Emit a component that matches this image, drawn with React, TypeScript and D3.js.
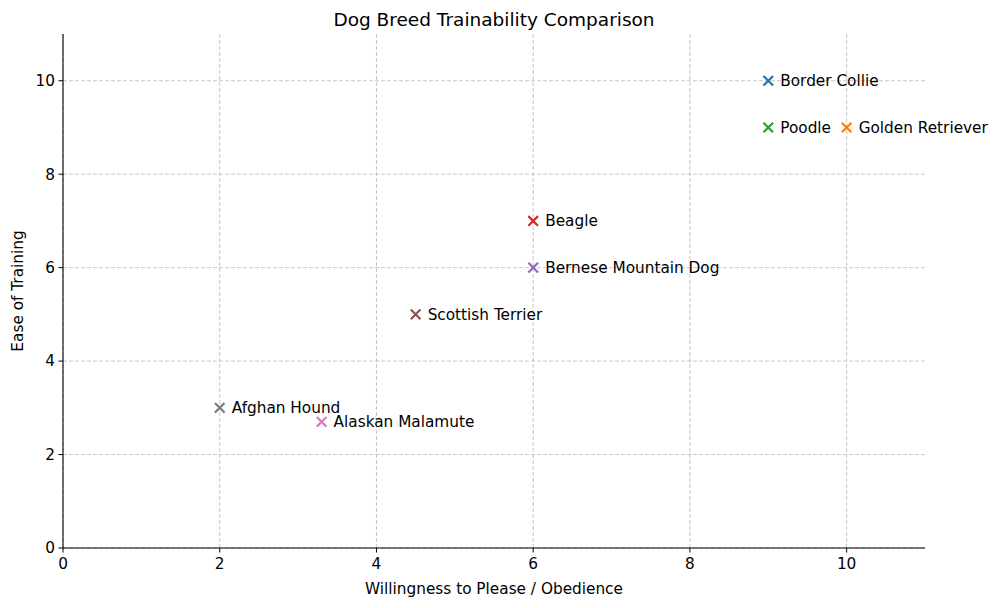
import React from "react";
import * as d3 from "d3";

// Breeds with their obedience and ease-of-training scores
const breeds = [
  "Border Collie",
  "Golden Retriever",
  "Poodle",
  "Beagle",
  "Bernese Mountain Dog",
  "Scottish Terrier",
  "Alaskan Malamute",
  "Afghan Hound",
];
const obedience = [9, 10, 9, 6, 6, 4.5, 3.3, 2];
const easeOfTraining = [10, 9, 9, 7, 6, 5, 2.7, 3];
const colors = [
  "#1f77b4",
  "#ff7f0e",
  "#2ca02c",
  "#d62728",
  "#9467bd",
  "#8c564b",
  "#e377c2",
  "#7f7f7f",
];
const xTicks = [0, 2, 4, 6, 8, 10];
const yTicks = [0, 2, 4, 6, 8, 10];

const W = 1000;
const H = 608;
const margin = { left: 63, right: 75, top: 34, bottom: 60 };

export default function App() {
  const x = d3.scaleLinear().domain([0, 11]).range([margin.left, W - margin.right]);
  const y = d3.scaleLinear().domain([0, 11]).range([H - margin.bottom, margin.top]);
  const font = "'DejaVu Sans', sans-serif";
  const x0 = x(0);
  const y0 = y(0);
  const ms = 4.8;
  const fs = 15.3;

  return (
    <div style={{ position: "absolute", left: 0, top: 0 }}>
      <svg width={W} height={H} fontFamily={font} style={{ display: "block", background: "#fff" }}>
        {/* grid */}
        {xTicks.map((t) => (
          <line key={"gx" + t} x1={x(t)} x2={x(t)} y1={y(11)} y2={y0}
            stroke="#b0b0b0" strokeOpacity={0.7} strokeDasharray="4,2" strokeWidth={1} />
        ))}
        {yTicks.map((t) => (
          <line key={"gy" + t} x1={x0} x2={x(11)} y1={y(t)} y2={y(t)}
            stroke="#b0b0b0" strokeOpacity={0.7} strokeDasharray="4,2" strokeWidth={1} />
        ))}

        {/* markers and labels */}
        {breeds.map((b, i) => {
          const cx = x(obedience[i]);
          const cy = y(easeOfTraining[i]);
          return (
            <g key={b}>
              <path
                d={`M${cx - ms},${cy - ms}L${cx + ms},${cy + ms}M${cx - ms},${cy + ms}L${cx + ms},${cy - ms}`}
                stroke={colors[i]} strokeWidth={2.2} fill="none" />
              <text x={cx + 12} y={cy} dy="0.35em" fontSize={fs} fill="#000">{b}</text>
            </g>
          );
        })}

        {/* spines */}
        <line x1={x0} x2={x0} y1={y(11)} y2={y0} stroke="#000" strokeWidth={1.1} />
        <line x1={x0} x2={x(11)} y1={y0} y2={y0} stroke="#000" strokeWidth={1.1} />

        {/* ticks */}
        {xTicks.map((t) => (
          <g key={"tx" + t}>
            <line x1={x(t)} x2={x(t)} y1={y0} y2={y0 + 4.5} stroke="#000" />
            <text x={x(t)} y={y0 + 21} textAnchor="middle" fontSize={fs}>{t}</text>
          </g>
        ))}
        {yTicks.map((t) => (
          <g key={"ty" + t}>
            <line x1={x0 - 4.5} x2={x0} y1={y(t)} y2={y(t)} stroke="#000" />
            <text x={x0 - 8} y={y(t)} dy="0.35em" textAnchor="end" fontSize={fs}>{t}</text>
          </g>
        ))}

        {/* labels */}
        <text x={(x0 + x(11)) / 2} y={594} textAnchor="middle" fontSize={fs}>
          Willingness to Please / Obedience
        </text>
        <text transform={`translate(23,${(y0 + y(11)) / 2}) rotate(-90)`} textAnchor="middle" fontSize={fs}>
          Ease of Training
        </text>
        <text x={(x0 + x(11)) / 2} y={26} textAnchor="middle" fontSize={18.5}>
          Dog Breed Trainability Comparison
        </text>
      </svg>
    </div>
  );
}
